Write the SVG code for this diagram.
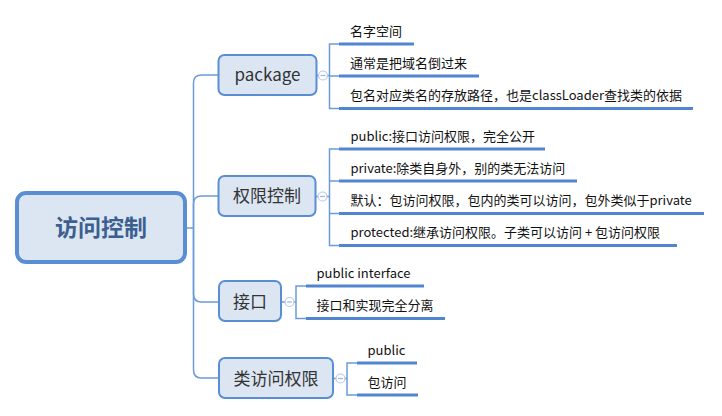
<svg xmlns="http://www.w3.org/2000/svg" width="722" height="416" viewBox="0 0 722 416">
<style>
.bg{fill:#ffffff}
.root{fill:#dce6f3;stroke:#5a8ed4;stroke-width:4}
.topic{fill:#dce6f3;stroke:#5a8ed4;stroke-width:2}
.rt{font-family:"Noto Sans CJK SC","Microsoft YaHei",sans-serif;font-size:23px;font-weight:bold;fill:#3b5f8e;text-anchor:middle}
.tt{font-family:"Noto Sans CJK SC","Microsoft YaHei",sans-serif;font-size:17px;fill:#333333;text-anchor:middle}
.lt{font-family:"Noto Sans CJK SC","Microsoft YaHei",sans-serif;font-size:13px;fill:#111111}
.conn{fill:none;stroke:#6b9bd9;stroke-width:1.5}
.ul{fill:none;stroke:#4f86cf;stroke-width:3}
.col{fill:#ffffff;stroke:#b7c9ea;stroke-width:1.2}
.minus{stroke:#9fb6e0;stroke-width:1.2}
</style>
<rect class="bg" x="0" y="0" width="722" height="416"/>
<g id="connectors">
<path class="conn" d="M185 228 H193.5"/>
<path class="conn" d="M193.5 228 V83 Q193.5 75 201.5 75 H219"/>
<path class="conn" d="M193.5 228 V204 Q193.5 196 201.5 196 H219"/>
<path class="conn" d="M193.5 228 V294 Q193.5 302 201.5 302 H220"/>
<path class="conn" d="M193.5 228 V370 Q193.5 378 201.5 378 H220"/>
<path class="conn" d="M317 75.5 H329.5 M339 44 H329.5 V108.5 H339 M329.5 76 H339"/>
<path class="conn" d="M316 196.5 H329.5 M339 149 H329.5 V245.5 H339 M329.5 181 H339 M329.5 213.5 H339"/>
<path class="conn" d="M282 302 H296 M306 286 H296 V318.5 H306"/>
<path class="conn" d="M334 378.5 H347 M357 363 H347 V395 H357"/>
</g>
<g id="root">
<rect class="root" x="17" y="193" width="168" height="69" rx="9"/>
<text class="rt" x="101" y="236">访问控制</text>
</g>
<g id="package">
<rect class="topic" x="218.5" y="55" width="98" height="40" rx="6"/>
<text class="tt" x="267.5" y="81">package</text>
<circle class="col" cx="323" cy="75.5" r="4.5"/><path class="minus" d="M320.5 75.5 H325.5"/>
</g>
<g id="package-leaves">
<text class="lt" x="350" y="36">名字空间</text>
<path class="ul" d="M339 44 H414"/>
<text class="lt" x="350" y="68">通常是把域名倒过来</text>
<path class="ul" d="M339 76 H479"/>
<text class="lt" x="350" y="100">包名对应类名的存放路径，也是classLoader查找类的依据</text>
<path class="ul" d="M339 108.5 H693"/>
</g>
<g id="access">
<rect class="topic" x="218.5" y="176" width="97" height="40" rx="6"/>
<text class="tt" x="267" y="202">权限控制</text>
<circle class="col" cx="322.5" cy="196.5" r="4.5"/><path class="minus" d="M320 196.5 H325"/>
</g>
<g id="access-leaves">
<text class="lt" x="350.5" y="141">public:接口访问权限，完全公开</text>
<path class="ul" d="M339 149 H545"/>
<text class="lt" x="350.5" y="173">private:除类自身外，别的类无法访问</text>
<path class="ul" d="M339 181 H577"/>
<text class="lt" x="350.5" y="205">默认：包访问权限，包内的类可以访问，包外类似于private</text>
<path class="ul" d="M339 213.5 H704"/>
<text class="lt" x="350.5" y="237">protected:继承访问权限。子类可以访问 + 包访问权限</text>
<path class="ul" d="M339 245.5 H677"/>
</g>
<g id="interface">
<rect class="topic" x="219" y="281" width="62" height="40" rx="6"/>
<text class="tt" x="250" y="308">接口</text>
<circle class="col" cx="289.5" cy="302" r="4.5"/><path class="minus" d="M287 302 H292"/>
</g>
<g id="interface-leaves">
<text class="lt" x="316.5" y="278">public interface</text>
<path class="ul" d="M306 286 H424"/>
<text class="lt" x="316.5" y="310">接口和实现完全分离</text>
<path class="ul" d="M306 318.5 H445"/>
</g>
<g id="class-access">
<rect class="topic" x="219" y="358" width="114" height="40" rx="6"/>
<text class="tt" x="276" y="385">类访问权限</text>
<circle class="col" cx="340.5" cy="378.5" r="4.5"/><path class="minus" d="M338 378.5 H343"/>
</g>
<g id="class-access-leaves">
<text class="lt" x="367.5" y="355">public</text>
<path class="ul" d="M357 363 H417"/>
<text class="lt" x="367.5" y="387">包访问</text>
<path class="ul" d="M357 395 H418"/>
</g>
</svg>
